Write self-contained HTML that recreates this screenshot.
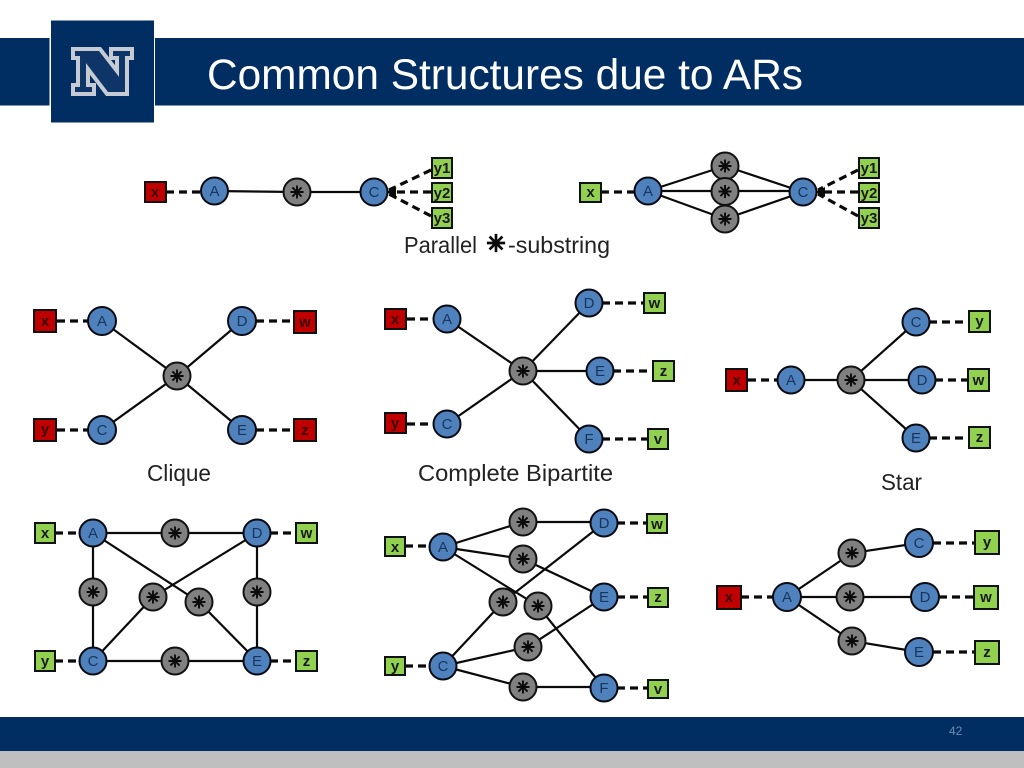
<!DOCTYPE html>
<html><head><meta charset="utf-8"><title>Common Structures due to ARs</title>
<style>
html,body{margin:0;padding:0;background:#fff;width:1024px;height:768px;overflow:hidden}
svg{display:block}
text{font-family:"Liberation Sans",sans-serif}
.e{stroke:#0a0a0a;stroke-width:2.2;fill:none}
.d{stroke:#0a0a0a;stroke-width:3.2;stroke-dasharray:8 5;fill:none}
.n{fill:#4f81bd;stroke:#0a0a12;stroke-width:2}
.b{stroke:#111;stroke-width:2}
.r{fill:#c00000}.g{fill:#92d050}
.l{font-size:15px;fill:#17365d;text-anchor:middle}
.t{font-size:15px;font-weight:bold;fill:#1a1a1a;text-anchor:middle}
.tr{fill:#3a0505}
.c{font-size:23px;fill:#222}
</style></head><body>
<svg width="1024" height="768" viewBox="0 0 1024 768" xmlns="http://www.w3.org/2000/svg">
<defs>
<g id="a" stroke="#0a0a0a" stroke-width="1.900" fill="none"><path d="M-6.500 0H6.500M0-6.500V6.500M-4.600-4.600L4.600 4.600M-4.600 4.600L4.600-4.600"/></g>
<g id="s"><circle r="13.500" fill="#808080" stroke="#111" stroke-width="2"/><use href="#a"/></g>
</defs>

<!-- header -->
<rect x="0" y="38" width="49.5" height="67.5" fill="#002e62"/>
<rect x="155" y="38" width="869" height="67.5" fill="#002e62"/>
<rect x="51" y="20.5" width="103" height="102" fill="#002e62"/>
<polygon points="73,49 100,49 117,71 117,58 111,58 111,49 132,49 132,58 127,58 127,94 107,94 88,69 88,85 94,85 94,94 73,94 73,85 78,85 78,58 73,58" fill="#0d3568" stroke="#c6cbd3" stroke-width="4"/>
<text x="207" y="89" font-size="43" fill="#fff" textLength="596" lengthAdjust="spacingAndGlyphs">Common Structures due to ARs</text>

<!-- footer -->
<rect x="0" y="717" width="1024" height="34" fill="#002e62"/>
<rect x="0" y="751" width="1024" height="17" fill="#bfbfbf"/>
<text x="949" y="735" font-size="12" fill="#6d8cb5">42</text>

<!-- edges: top diagrams -->
<path class="d" d="M166 192H201"/>
<path class="e" d="M214 191L297 192H374"/>
<path class="d" d="M431 170L389 190M431 192H389M431 216L389 194"/>
<polygon points="386,192 396,187 396,197" fill="#0a0a0a"/>
<path class="d" d="M601 192H635"/>
<path class="e" d="M648 191L725 166L803 192M648 191H803M648 191L725 219L803 192"/>
<path class="d" d="M858 170L818 190M858 192H818M858 216L818 194"/>
<polygon points="815,192 825,187 825,197" fill="#0a0a0a"/>

<!-- clique -->
<path class="d" d="M57 321H88M256 321H293M57 430H88M256 430H293"/>
<path class="e" d="M102 321L177 376L242 321M102 430L177 376L242 430"/>

<!-- bipartite -->
<path class="d" d="M407 319H434M407 424H434M602 303H643M613 371H652M602 439H647"/>
<path class="e" d="M447 319L523 371L589 303M447 424L523 371L589 439M523 371H600"/>

<!-- star -->
<path class="d" d="M748 380H778M929 322H968M935 380H967M929 438H968"/>
<path class="e" d="M791 380H922M851 380L916 322M851 380L916 438"/>

<!-- bottom left -->
<path class="d" d="M55 533H80M270 533H296M55 661H80M270 661H296"/>
<path class="e" d="M93 533H257V661H93ZM93 533L199 602L257 661M257 533L153 597L93 661"/>

<!-- bottom middle -->
<path class="d" d="M405 546H430M405 666H430M617 523H647M617 597H647M617 688H647"/>
<path class="e" d="M443 547L523 522H604M443 547L523 559L604 597M443 547L538 606L604 688M443 666L503 602L604 523M443 666L528 647L604 597M443 666L523 687H604"/>

<!-- bottom right -->
<path class="d" d="M741 597H774M933 543H975M939 597H974M933 652H975"/>
<path class="e" d="M787 597L852 553L919 543M787 597H925M787 597L852 641L919 652"/>

<!-- stars -->
<use href="#s" x="297" y="192"/>
<use href="#s" x="725" y="166"/><use href="#s" x="725" y="191.500"/><use href="#s" x="725" y="219"/>
<use href="#s" x="177" y="376"/><use href="#s" x="523" y="371"/><use href="#s" x="851" y="380"/>
<use href="#s" x="175" y="533"/><use href="#s" x="93" y="592"/><use href="#s" x="153" y="597"/><use href="#s" x="199" y="602"/><use href="#s" x="257" y="592"/><use href="#s" x="175" y="661"/>
<use href="#s" x="523" y="522"/><use href="#s" x="523" y="559"/><use href="#s" x="503" y="602"/><use href="#s" x="538" y="606"/><use href="#s" x="528" y="647"/><use href="#s" x="523" y="687"/>
<use href="#s" x="852" y="553"/><use href="#s" x="850" y="597"/><use href="#s" x="852" y="641"/>
<use href="#a" transform="translate(496 243) scale(1.400)"/>

<!-- circles -->
<g class="n">
<circle cx="214.500" cy="191" r="13.500"/><circle cx="374" cy="192" r="13.500"/>
<circle cx="648" cy="191" r="13.500"/><circle cx="803" cy="192" r="13.500"/>
<circle cx="102" cy="321" r="14"/><circle cx="242" cy="321" r="14"/><circle cx="102" cy="430" r="14"/><circle cx="242" cy="430" r="14"/>
<circle cx="447" cy="319" r="13.500"/><circle cx="589" cy="303" r="13.500"/><circle cx="600" cy="371" r="13.500"/><circle cx="447" cy="424" r="13.500"/><circle cx="589" cy="439" r="13.500"/>
<circle cx="791" cy="380" r="13.500"/><circle cx="916" cy="322" r="13.500"/><circle cx="922" cy="380" r="13.500"/><circle cx="916" cy="438" r="13.500"/>
<circle cx="93" cy="533" r="13.500"/><circle cx="257" cy="533" r="13.500"/><circle cx="93" cy="661" r="13.500"/><circle cx="257" cy="661" r="13.500"/>
<circle cx="443" cy="547" r="13.500"/><circle cx="604" cy="523" r="13.500"/><circle cx="604" cy="597" r="13.500"/><circle cx="443" cy="666" r="13.500"/><circle cx="604" cy="688" r="13.500"/>
<circle cx="787" cy="597" r="14"/><circle cx="919" cy="543" r="14"/><circle cx="925" cy="597" r="14"/><circle cx="919" cy="652" r="14"/>
</g>

<!-- boxes -->
<g class="b">
<rect class="r" x="145" y="182" width="21" height="20"/>
<rect class="g" x="432" y="158" width="20" height="20"/><rect class="g" x="432" y="183" width="20" height="19"/><rect class="g" x="432" y="208" width="20" height="20"/>
<rect class="g" x="580" y="183" width="21" height="19"/>
<rect class="g" x="859" y="158" width="20" height="20"/><rect class="g" x="859" y="183" width="20" height="19"/><rect class="g" x="859" y="208" width="20" height="20"/>
<rect class="r" x="34" y="310" width="22" height="22"/><rect class="r" x="294" y="311" width="22" height="22"/><rect class="r" x="34" y="419" width="22" height="22"/><rect class="r" x="294" y="419" width="22" height="22"/>
<rect class="r" x="385" y="309" width="21" height="20"/><rect class="r" x="385" y="413" width="21" height="20"/>
<rect class="g" x="644" y="293" width="21" height="20"/><rect class="g" x="653" y="361" width="21" height="20"/><rect class="g" x="648" y="429" width="20" height="20"/>
<rect class="r" x="726" y="369" width="21" height="22"/>
<rect class="g" x="969" y="311" width="21" height="21"/><rect class="g" x="968" y="369" width="21" height="22"/><rect class="g" x="969" y="427" width="21" height="21"/>
<rect class="g" x="35" y="523" width="20" height="20"/><rect class="g" x="296" y="523" width="21" height="20"/><rect class="g" x="35" y="651" width="20" height="20"/><rect class="g" x="296" y="651" width="21" height="20"/>
<rect class="g" x="385" y="537" width="20" height="19"/><rect class="g" x="385" y="657" width="20" height="18"/>
<rect class="g" x="647" y="514" width="20" height="19"/><rect class="g" x="648" y="588" width="20" height="19"/><rect class="g" x="648" y="680" width="20" height="18"/>
<rect class="r" x="717" y="586" width="24" height="23"/>
<rect class="g" x="975" y="531" width="24" height="23"/><rect class="g" x="974" y="586" width="24" height="23"/><rect class="g" x="975" y="641" width="24" height="23"/>
</g>

<!-- node labels -->
<g class="l">
<text x="214.500" y="196">A</text><text x="374" y="197">C</text>
<text x="648" y="196">A</text><text x="803" y="197">C</text>
<text x="102" y="326">A</text><text x="242" y="326">D</text><text x="102" y="435">C</text><text x="242" y="435">E</text>
<text x="447" y="324">A</text><text x="589" y="308">D</text><text x="600" y="376">E</text><text x="447" y="429">C</text><text x="589" y="444">F</text>
<text x="791" y="385">A</text><text x="916" y="327">C</text><text x="922" y="385">D</text><text x="916" y="443">E</text>
<text x="93" y="538">A</text><text x="257" y="538">D</text><text x="93" y="666">C</text><text x="257" y="666">E</text>
<text x="443" y="552">A</text><text x="604" y="528">D</text><text x="604" y="602">E</text><text x="443" y="671">C</text><text x="604" y="693">F</text>
<text x="787" y="602">A</text><text x="919" y="548">C</text><text x="925" y="602">D</text><text x="919" y="657">E</text>
</g>

<!-- box labels -->
<g class="t">
<text class="t tr" x="155" y="197">x</text>
<text x="442" y="173">y1</text><text x="442" y="198">y2</text><text x="442" y="223">y3</text>
<text x="590.500" y="197">x</text>
<text x="869" y="173">y1</text><text x="869" y="198">y2</text><text x="869" y="223">y3</text>
<text class="t tr" x="45" y="326">x</text><text class="t tr" x="305" y="327">w</text><text class="t tr" x="45" y="434">y</text><text class="t tr" x="305" y="435">z</text>
<text class="t tr" x="395" y="324">x</text><text class="t tr" x="395" y="428">y</text>
<text x="654.500" y="308">w</text><text x="663.500" y="376">z</text><text x="658" y="444">v</text>
<text class="t tr" x="736.500" y="385">x</text>
<text x="979.500" y="326">y</text><text x="978.500" y="385">w</text><text x="979.500" y="442">z</text>
<text x="45" y="538">x</text><text x="306.500" y="538">w</text><text x="45" y="666">y</text><text x="306.500" y="666">z</text>
<text x="395" y="552">x</text><text x="395" y="671">y</text>
<text x="657" y="529">w</text><text x="658" y="602">z</text><text x="658" y="694">v</text>
<text class="t tr" x="729" y="602">x</text>
<text x="987" y="547">y</text><text x="986" y="602">w</text><text x="987" y="657">z</text>
</g>

<!-- captions -->
<text class="c" x="404" y="253" textLength="73" lengthAdjust="spacingAndGlyphs">Parallel</text>
<text class="c" x="508" y="253" textLength="102" lengthAdjust="spacingAndGlyphs">-substring</text>
<text class="c" x="147" y="481" textLength="64" lengthAdjust="spacingAndGlyphs">Clique</text>
<text class="c" x="418" y="481" textLength="195" lengthAdjust="spacingAndGlyphs">Complete Bipartite</text>
<text class="c" x="881" y="490" textLength="41" lengthAdjust="spacingAndGlyphs">Star</text>
</svg>
</body></html>
